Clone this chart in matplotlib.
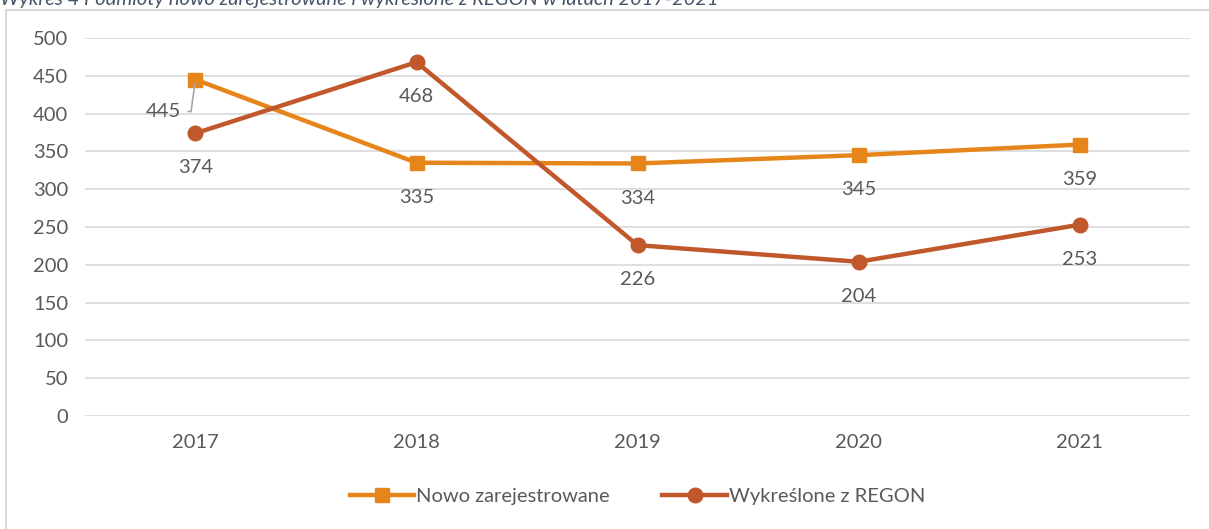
import matplotlib.pyplot as plt
from matplotlib.patches import Rectangle

plt.rcParams['font.family'] = ['Lato', 'DejaVu Sans']

years = ["2017", "2018", "2019", "2020", "2021"]
nowo = [445, 335, 334, 345, 359]
wykreslone = [374, 468, 226, 204, 253]

c_nowo = "#E6861A"
c_wykr = "#C0582B"
txt = "#595959"
fs = 14.5

fig = plt.figure(figsize=(12.09, 5.29), dpi=100)
ax = fig.add_axes([0.0703, 0.2136, 0.9140, 0.7146])

x = list(range(len(years)))
ax.plot(x, nowo, color=c_nowo, lw=3.2, marker="s", ms=10, label="Nowo zarejestrowane", zorder=3)
ax.plot(x, wykreslone, color=c_wykr, lw=3.2, marker="o", ms=10.5, label="Wykreślone z REGON", zorder=3)

# data labels
for i, v in enumerate(nowo):
    if i == 0:
        ax.annotate(str(v), xy=(i, v), xytext=(-23, -23), textcoords="offset points",
                    ha="center", va="center", fontsize=fs, color=txt,
                    arrowprops=dict(arrowstyle="-", color="#A6A6A6", lw=1.2, relpos=(1, 0.5),
                                    connectionstyle="angle,angleA=0,angleB=82,rad=0",
                                    shrinkA=3, shrinkB=3))
    else:
        ax.annotate(str(v), xy=(i, v), xytext=(0, -25), textcoords="offset points",
                    ha="center", va="center", fontsize=fs, color=txt)
for i, v in enumerate(wykreslone):
    ax.annotate(str(v), xy=(i, v), xytext=(0, -25), textcoords="offset points",
                ha="center", va="center", fontsize=fs, color=txt)

ax.set_xlim(-0.5, 4.5)
ax.set_ylim(0, 500)
ax.set_yticks(range(0, 501, 50))
ax.set_xticks(x)
ax.set_xticklabels(years)
ax.tick_params(axis="both", length=0, labelsize=fs, colors=txt)
ax.tick_params(axis="x", pad=13)
ax.tick_params(axis="y", pad=12)
ax.grid(axis="y", color="#D9D9D9", lw=1.2)
ax.set_axisbelow(True)
for s in ax.spines.values():
    s.set_visible(False)

ax.legend(loc="center", bbox_to_anchor=(0.5, -0.214), ncol=2, frameon=False,
          fontsize=fs, labelcolor=txt, handlelength=3.2, handletextpad=0.1, columnspacing=2.6)

# chart border and clipped caption
fig.patches.append(Rectangle((6 / 1209, -0.01), 1.2, 1 - 10 / 529 + 0.01,
                             transform=fig.transFigure, fill=False,
                             edgecolor="#D9D9D9", lw=1.5))
fig.text(0.0, 1.0, "Wykres 4 Podmioty nowo zarejestrowane i wykreślone z REGON w latach 2017-2021",
         ha="left", va="center", fontsize=fs, style="italic", color="#44546A")

fig.savefig("out.png", dpi=100)
